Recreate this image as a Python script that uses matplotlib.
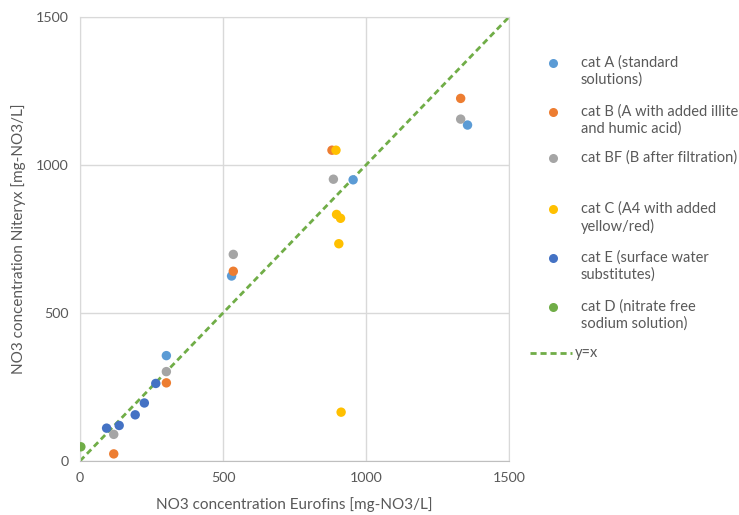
import matplotlib
matplotlib.use("Agg")
import matplotlib.pyplot as plt
from matplotlib.lines import Line2D

plt.rcParams['font.family'] = ['Lato', 'DejaVu Sans']

# data (Eurofins x, Niteryx y)
catA_x = [302, 530, 955, 1355]
catA_y = [356, 625, 950, 1135]
catB_x = [118, 302, 536, 881, 1331]
catB_y = [24, 264, 641, 1050, 1225]
catBF_x = [118, 302, 536, 886, 1331]
catBF_y = [90, 302, 698, 952, 1155]
catC_x = [895, 897, 911, 905, 913]
catC_y = [1050, 833, 820, 734, 165]
catE_x = [93, 137, 193, 225, 265]
catE_y = [111, 120, 156, 196, 262]
catD_x = [3]
catD_y = [48]
line_xy = [0, 1500]

labels = ["cat A (standard\nsolutions)",
          "cat B (A with added illite\nand humic acid)",
          "cat BF (B after filtration)",
          "cat C (A4 with added\nyellow/red)",
          "cat E (surface water\nsubstitutes)",
          "cat D (nitrate free\nsodium solution)"]
colors = ["#5B9BD5", "#ED7D31", "#A5A5A5", "#FFC000", "#4472C4", "#70AD47"]
series = [(catA_x, catA_y), (catB_x, catB_y), (catBF_x, catBF_y),
          (catC_x, catC_y), (catE_x, catE_y), (catD_x, catD_y)]

txt = "#595959"
grid = "#D9D9D9"

fig = plt.figure(figsize=(7.39, 5.15), dpi=100)
ax = fig.add_axes([80/739, 1 - 461/515, (509-80)/739, (461-17)/515])

for (xs, ys), c in zip(series, colors):
    ax.scatter(xs, ys, s=46, color=c, edgecolors='none', zorder=3)
ax.plot(line_xy, line_xy, color="#70AD47", lw=2, ls=(0, (2.2, 1.4)), zorder=2)

ax.set_xlim(0, 1500)
ax.set_ylim(0, 1500)
ax.set_xticks([0, 500, 1000, 1500])
ax.set_yticks([0, 500, 1000, 1500])
ax.grid(True, color=grid, lw=1)
ax.set_axisbelow(True)
for s in ax.spines.values():
    s.set_color(grid)
ax.spines['bottom'].set_color("#BFBFBF")
ax.tick_params(length=0, colors=txt, labelsize=10.3, pad=8)
ax.set_xlabel("NO3 concentration Eurofins [mg-NO3/L]", color=txt, fontsize=11, labelpad=9)
ax.set_ylabel("NO3 concentration Niteryx [mg-NO3/L]", color=txt, fontsize=11, labelpad=7)

# legend drawn by hand so markers line up with the first text line
leg_y = [63, 112, 158, 209, 258, 307]
for yy, lab, c in zip(leg_y, labels, colors):
    fy = 1 - yy/515
    fig.add_artist(Line2D([553/739], [fy], marker='o', ms=6.5, color=c, mec='none', ls='none'))
    fig.text(581/739, fy + 8/515, lab, color=txt, fontsize=10.5, va='top', ha='left',
             linespacing=1.3)
fy = 1 - 353/515
fig.add_artist(Line2D([530/739, 572/739], [fy, fy], color="#70AD47", lw=2, ls=(0, (2.2, 1.4))))
fig.text(575/739, fy, "y=x", color=txt, fontsize=10.5, va='center', ha='left')

fig.savefig("out.png", dpi=100)
